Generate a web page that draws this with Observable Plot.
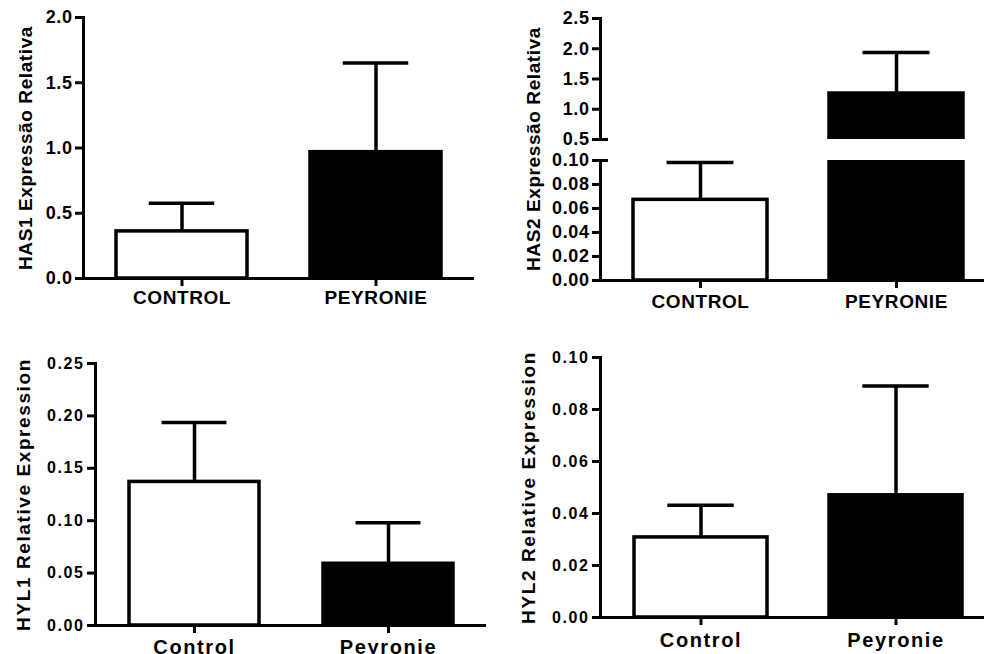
<!DOCTYPE html>
<html><head><meta charset="utf-8">
<script src="https://cdn.jsdelivr.net/npm/d3@7"></script>
<script src="https://cdn.jsdelivr.net/npm/@observablehq/plot@0.6"></script>
<style>
body{margin:0;background:#fff;overflow:hidden}
#wrap{position:relative;width:984px;height:654px;overflow:hidden;background:#fff}
#wrap svg{position:absolute;overflow:visible}
</style></head><body><div id="wrap"></div>
<script>
// ---- data ----
const groupsUpper = ["CONTROL", "PEYRONIE"];
const groupsLower = ["Control", "Peyronie"];
const barFills = ["white", "black"];
const has1Mean = [0.361, 0.968];
const has1Err = [0.215, 0.683];
const has2Mean = [0.0672, 1.26];
const has2Err = [0.0311, 0.678];
const hyl1Mean = [0.137, 0.0589];
const hyl1Err = [0.0567, 0.0392];
const hyl2Mean = [0.0308, 0.047];
const hyl2Err = [0.0124, 0.042];
const has1Ticks = [0, 0.5, 1.0, 1.5, 2.0];
const has2TopTicks = [0.5, 1.0, 1.5, 2.0, 2.5];
const has2BottomTicks = [0, 0.02, 0.04, 0.06, 0.08, 0.10];
const hyl1Ticks = [0, 0.05, 0.10, 0.15, 0.20, 0.25];
const hyl2Ticks = [0, 0.02, 0.04, 0.06, 0.08, 0.10];
const has2Break = [0.10, 0.5];
const yLabels = ["HAS1 Expressão Relativa", "HAS2 Expressão Relativa", "HYL1 Relative Expression", "HYL2 Relative Expression"];

const wrap = document.getElementById("wrap");
const FONT = "'Liberation Sans', Arial, Helvetica, sans-serif";

function panel(cfg) {
  const rows = cfg.groups.map((g, i) => ({g, m: cfg.mean[i], e: cfg.err[i], f: barFills[i]}));
  const [r0, r1] = cfg.xRange;
  const n = cfg.groups.length;
  const step = (r1 - r0) / (n - cfg.pi + 2 * cfg.po);
  const bw = step * (1 - cfg.pi);
  const plotW = cfg.width - cfg.mL - cfg.mR;
  const clip = !!cfg.clip;
  const marks = [
    Plot.rectY(rows, {x: "g", y1: 0, y2: "m", fill: "f", stroke: "black", strokeWidth: 3.5, clip}),
    Plot.ruleX(rows, {x: "g", y1: "m", y2: d => d.m + d.e, stroke: "black", strokeWidth: 3.5, clip}),
    Plot.tickY(rows, {x: "g", y: d => d.m + d.e, stroke: "black", strokeWidth: 3.5, insetLeft: bw / 4, insetRight: bw / 4, clip}),
    Plot.frame({anchor: "left", strokeWidth: 3}),
    Plot.axisY(cfg.ticks, {tickFormat: d3.format(cfg.fmt), tickSize: 8, tickPadding: 3, strokeWidth: 3, fontSize: cfg.tickFont, label: null})
  ];
  if (cfg.showX) {
    marks.push(Plot.ruleY([cfg.domain[0]], {strokeWidth: 3}));
    marks.push(Plot.axisX({tickSize: 8, tickPadding: cfg.xPad, strokeWidth: 3, fontSize: cfg.xFont, label: null, style: {letterSpacing: "0px"}}));
  }
  if (cfg.breakAt != null) {
    marks.push(Plot.ruleY([cfg.breakAt], {strokeWidth: 3, insetLeft: -8, insetRight: plotW - 8}));
  }
  if (cfg.label) {
    marks.push(Plot.text([cfg.label], {text: d => d, frameAnchor: "left", textAnchor: "middle", rotate: -90, dx: cfg.labelDx, dy: cfg.labelDy || 0, fontSize: 19, lineAnchor: "middle"}));
  }
  const svg = Plot.plot({
    width: cfg.width, height: cfg.height,
    marginLeft: cfg.mL, marginRight: cfg.mR, marginTop: cfg.mT, marginBottom: cfg.mB,
    x: {type: "band", domain: cfg.groups, range: cfg.xRange, paddingInner: cfg.pi, paddingOuter: cfg.po, axis: null},
    y: {domain: cfg.domain, axis: null},
    color: {type: "identity"},
    style: `font-family:${FONT};font-weight:bold;color:black;background:transparent;letter-spacing:${cfg.ls}px;overflow:visible`,
    marks
  });
  svg.style.left = cfg.left + "px";
  svg.style.top = cfg.top + "px";
  wrap.appendChild(svg);
}

// HAS1
panel({groups: groupsUpper, mean: has1Mean, err: has1Err, ticks: has1Ticks, fmt: ".1f", domain: [0, 2.0],
  left: 0, top: 0, width: 490, height: 320, mL: 83, mR: 16, mT: 17, mB: 42, xRange: [83, 474], pi: 0.325, po: 0.17,
  showX: true, tickFont: 18, xFont: 19, xPad: 4, ls: 0.6, label: yLabels[0], labelDx: -58});
// HAS2 top segment
panel({groups: groupsUpper, mean: has2Mean, err: has2Err, ticks: has2TopTicks, fmt: ".1f", domain: [has2Break[1], 2.5],
  left: 490, top: 0, width: 494, height: 150, mL: 110, mR: 0, mT: 18, mB: 11, xRange: [110, 506], pi: 0.316, po: 0.168,
  showX: false, tickFont: 18, ls: 0.6, clip: true, breakAt: has2Break[1]});
// HAS2 bottom segment
panel({groups: groupsUpper, mean: has2Mean, err: has2Err, ticks: has2BottomTicks, fmt: ".2f", domain: [0, has2Break[0]],
  left: 490, top: 150, width: 494, height: 170, mL: 110, mR: 0, mT: 10, mB: 40, xRange: [110, 506], pi: 0.316, po: 0.168,
  showX: true, tickFont: 18, xFont: 19, xPad: 6, ls: 0.6, clip: true, breakAt: has2Break[0], label: yLabels[1], labelDx: -67, labelDy: -71.5});
// HYL1
panel({groups: groupsLower, mean: hyl1Mean, err: hyl1Err, ticks: hyl1Ticks, fmt: ".2f", domain: [0, 0.25],
  left: 0, top: 330, width: 490, height: 324, mL: 95, mR: 4, mT: 33, mB: 29, xRange: [95, 486], pi: 0.33, po: 0.17,
  showX: true, tickFont: 16, xFont: 20, xPad: 6, ls: 1.6, label: yLabels[2], labelDx: -72});
// HYL2
panel({groups: groupsLower, mean: hyl2Mean, err: hyl2Err, ticks: hyl2Ticks, fmt: ".2f", domain: [0, 0.10],
  left: 490, top: 330, width: 494, height: 324, mL: 110, mR: 0, mT: 27, mB: 37, xRange: [110, 505], pi: 0.32, po: 0.168,
  showX: true, tickFont: 16, xFont: 20, xPad: 7, ls: 1.6, label: yLabels[3], labelDx: -72});
</script></body></html>
